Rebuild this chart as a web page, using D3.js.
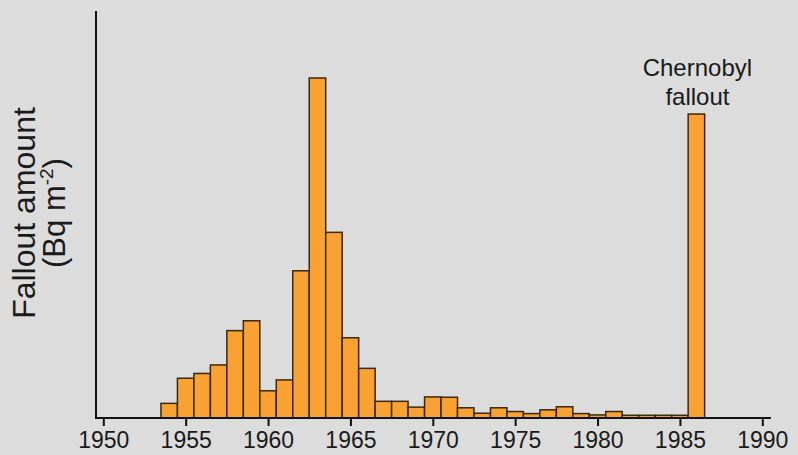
<!DOCTYPE html>
<html>
<head>
<meta charset="utf-8">
<script src="https://cdn.jsdelivr.net/npm/d3@7"></script>
<style>
  html, body { margin: 0; padding: 0; background: #dcdcdc; }
  svg { display: block; }
  text { font-family: "Liberation Sans", Arial, Helvetica, sans-serif; fill: #1a1a1a; }
</style>
</head>
<body>
<svg id="chart" width="798" height="455"></svg>
<script>
// Annual fallout deposition (relative units, 1963 peak = 100)
const years = [1954, 1955, 1956, 1957, 1958, 1959, 1960, 1961, 1962, 1963,
               1964, 1965, 1966, 1967, 1968, 1969, 1970, 1971, 1972, 1973,
               1974, 1975, 1976, 1977, 1978, 1979, 1980, 1981, 1982, 1983,
               1984, 1985, 1986];
const fallout = [4.3, 11.7, 13.1, 15.6, 25.7, 28.6, 8.0, 11.2, 43.3, 100,
                 54.6, 23.6, 14.6, 4.9, 4.9, 3.2, 6.2, 6.1, 3.0, 1.4,
                 3.0, 1.9, 1.3, 2.4, 3.3, 1.3, 0.9, 1.9, 0.8, 0.8,
                 0.8, 0.8, 89.4];
const tickYears = [1950, 1955, 1960, 1965, 1970, 1975, 1980, 1985, 1990];
const annotationYear = 1986;
const annotationLines = ["Chernobyl", "fallout"];

const svg = d3.select("#chart");

const x = d3.scaleLinear().domain([1950, 1990]).range([103.3, 762.3]);
const y = d3.scaleLinear().domain([0, 120]).range([418, 10]);

// Bars: one per year, spanning half a year either side of the year
svg.append("g")
  .selectAll("rect")
  .data(years.map((yr, i) => ({ yr, v: fallout[i] })))
  .join("rect")
    .attr("x", d => x(d.yr - 0.5))
    .attr("width", d => x(d.yr + 0.5) - x(d.yr - 0.5))
    .attr("y", d => y(d.v))
    .attr("height", d => y(0) - y(d.v))
    .attr("fill", "#f9a233")
    .attr("stroke", "#3b2810")
    .attr("stroke-width", 1.5);

// X axis
const xAxis = svg.append("g")
  .attr("transform", `translate(0,${y(0)})`)
  .call(d3.axisBottom(x).tickValues(tickYears).tickFormat(d3.format("d"))
        .tickSize(8).tickSizeOuter(0).tickPadding(6));
xAxis.select(".domain").remove();
xAxis.selectAll(".tick line").attr("stroke", "#111").attr("stroke-width", 2);
xAxis.selectAll(".tick text")
  .attr("fill", "#1a1a1a")
  .style("font-size", "23px")
  .style("font-family", "'Liberation Sans', Arial, Helvetica, sans-serif");

// Axis lines
svg.append("line")
  .attr("x1", 95).attr("x2", x(1990.52))
  .attr("y1", y(0)).attr("y2", y(0))
  .attr("stroke", "#111").attr("stroke-width", 2);
svg.append("line")
  .attr("x1", 96).attr("x2", 96)
  .attr("y1", 11).attr("y2", y(0) + 1)
  .attr("stroke", "#111").attr("stroke-width", 2);

// Y axis title
svg.append("text")
  .attr("transform", "translate(35,213) rotate(-90)")
  .attr("text-anchor", "middle")
  .style("font-size", "32px")
  .text("Fallout amount");
const unit = svg.append("text")
  .attr("transform", "translate(65,213) rotate(-90)")
  .attr("text-anchor", "middle")
  .style("font-size", "31px");
unit.append("tspan").text("(Bq m");
unit.append("tspan").attr("dy", -12).style("font-size", "19px").text("-2");
unit.append("tspan").attr("dy", 12).text(")");

// Annotation above the 1986 bar
svg.append("text")
  .attr("text-anchor", "middle")
  .style("font-size", "24px")
  .selectAll("tspan")
  .data(annotationLines)
  .join("tspan")
    .attr("x", x(annotationYear) + 1)
    .attr("y", (d, i) => 76 + i * 29)
    .text(d => d);
</script>
</body>
</html>
